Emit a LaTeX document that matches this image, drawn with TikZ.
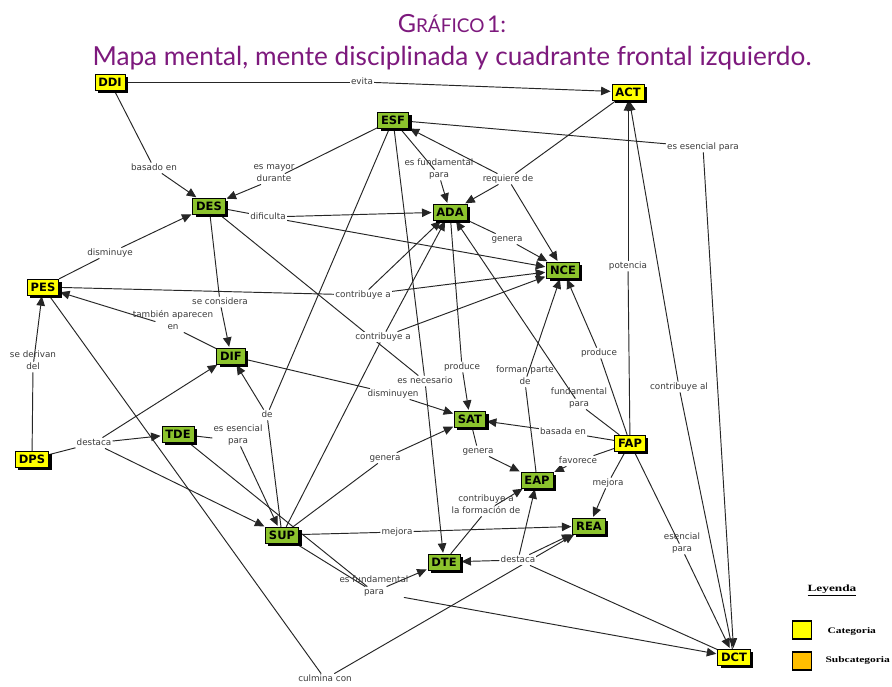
\documentclass[tikz,border=0pt]{standalone}
\usepackage{fontspec}
\setmainfont{DejaVu Sans}
\newfontfamily\titlefont{Lato}
\newfontfamily\legendfont{Liberation Serif}
\usetikzlibrary{arrows.meta, shadows}

\definecolor{cgreen}{RGB}{140,195,45}
\definecolor{cyellow}{RGB}{255,255,0}
\definecolor{corange}{RGB}{255,190,0}
\definecolor{ctitle}{RGB}{125,25,125}
\definecolor{clabel}{RGB}{60,60,60}

\pgfdeclarelayer{bg}
\pgfsetlayers{bg,main}

\tikzset{
  conceptbox/.style={draw=black, line width=0.6pt,
    font=\fontsize{11.5}{12}\selectfont\bfseries,
    inner xsep=3.5pt, inner ysep=3.7pt, text height=8.4pt, text depth=0pt,
    drop shadow={shadow xshift=3pt, shadow yshift=-3pt, fill=black, opacity=1}},
  catbox/.style={conceptbox, fill=cyellow},
  subbox/.style={conceptbox, fill=cgreen},
  phrase/.style={fill=white, text=clabel, font=\fontsize{8.8}{11.5}\selectfont,
    inner sep=1pt, align=center, text height=6.6pt, text depth=1.8pt},
  lnk/.style={draw=black!85, line width=0.95pt},
  lnkarr/.style={lnk, -{Triangle[length=9.5pt,width=8.5pt]}, shorten >=1pt},
}

\begin{document}
\begin{tikzpicture}[x=1pt, y=-1pt]
\useasboundingbox (0,0) rectangle (892,686);

\node[anchor=base, text=ctitle, font=\titlefont] (titleA) at (452,32)
  {{\fontsize{25}{25}\selectfont G}{\fontsize{19}{19}\selectfont RÁFICO} {\fontsize{23}{23}\selectfont 1:}};
\node[anchor=base, text=ctitle, font=\titlefont\fontsize{26.2}{26}\selectfont] (titleB) at (452,65)
  {Mapa mental, mente disciplinada y cuadrante frontal izquierdo.};

\node[catbox] (ddi) at (110,82) {DDI};
\node[catbox] (act) at (628,92) {ACT};
\node[subbox] (esf) at (393,120) {ESF};
\node[subbox] (des) at (209,206) {DES};
\node[subbox] (ada) at (450,212) {ADA};
\node[subbox] (nce) at (563,270) {NCE};
\node[catbox] (pes) at (43,287) {PES};
\node[subbox] (dif) at (231,356) {DIF};
\node[subbox] (tde) at (178,434) {TDE};
\node[catbox] (dps) at (32,459) {DPS};
\node[subbox] (sat) at (470,419) {SAT};
\node[catbox] (fap) at (630,443) {FAP};
\node[subbox] (eap) at (537,480) {EAP};
\node[subbox] (rea) at (589,526) {REA};
\node[subbox] (sup) at (282,535) {SUP};
\node[subbox] (dte) at (444,562) {DTE};
\node[catbox] (dct) at (734,657) {DCT};

\node[phrase] (evita) at (362,82) {evita};
\node[phrase] (basado) at (154,168) {basado en};
\node[phrase] (mayor) at (274,179) {es mayor\\durante};
\node[phrase] (fundA) at (439,175) {es fundamental\\para};
\node[phrase] (requiere) at (508,179) {requiere de};
\node[phrase] (esencialA) at (703,147) {es esencial para};
\node[phrase] (dificulta) at (268,217) {dificulta};
\node[phrase] (generaA) at (507,239) {genera};
\node[phrase] (potencia) at (628,266) {potencia};
\node[phrase] (disminuye) at (110,253) {disminuye};
\node[phrase] (contribA) at (363,295) {contribuye a};
\node[phrase] (considera) at (220,302) {se considera};
\node[phrase] (aparecen) at (173,327) {también aparecen\\en};
\node[phrase] (contribB) at (383,337) {contribuye a};
\node[phrase] (derivan) at (33,367) {se derivan\\del};
\node[phrase] (produceA) at (462,367) {produce};
\node[phrase] (forman) at (525,382) {forman parte\\de};
\node[phrase] (produceB) at (599,353) {produce};
\node[phrase] (contribAl) at (679,387) {contribuye al};
\node[phrase] (necesario) at (425,381) {es necesario};
\node[phrase] (disminuyen) at (393,394) {disminuyen};
\node[phrase] (fundB) at (579,404) {fundamental\\para};
\node[phrase] (basada) at (563,432) {basada en};
\node[phrase] (de) at (267,415) {de};
\node[phrase] (destacaA) at (94,443) {destaca};
\node[phrase] (esencialB) at (238,441) {es esencial\\para};
\node[phrase] (generaB) at (385,458) {genera};
\node[phrase] (generaC) at (478,451) {genera};
\node[phrase] (favorece) at (578,461) {favorece};
\node[phrase] (mejoraA) at (608,483) {mejora};
\node[phrase] (esencialC) at (682,549) {esencial\\para};
\node[phrase] (formacion) at (486,511) {contribuye a\\la formación de};
\node[phrase] (mejoraB) at (397,532) {mejora};
\node[phrase] (destacaB) at (518,560) {destaca};
\node[phrase] (fundC) at (374,592) {es fundamental\\para};
\node[phrase] (culmina) at (325,679) {culmina con};

\node[font=\fontsize{9.5}{9.5}\selectfont\legendfont\bfseries] (leyenda) at (832,590)
  {\scalebox{1.4}[1]{\underline{Leyenda}}};
\node[draw, line width=1.6pt, fill=cyellow, minimum width=19pt, minimum height=18pt] (keyA) at (802,630) {};
\node[draw, line width=1.6pt, fill=corange, minimum width=19pt, minimum height=18pt] (keyB) at (802,661) {};
\node[anchor=west, font=\fontsize{8.5}{8.5}\selectfont\legendfont\bfseries] (keyAtext) at (824,631)
  {\scalebox{1.35}[1]{Categoria}};
\node[anchor=west, font=\fontsize{8.5}{8.5}\selectfont\legendfont\bfseries] (keyBtext) at (822,660)
  {\scalebox{1.35}[1]{Subcategoria}};

\begin{pgfonlayer}{bg}
\fill[white] (0,0) rectangle (892,686);
\draw[lnk] (ddi) -- (evita);
\draw[lnkarr] (evita) -- (act);
\draw[lnk] (ddi) -- (basado);
\draw[lnkarr] (basado) -- (des);
\draw[lnk] (esf) -- (mayor);
\draw[lnkarr] (mayor) -- (des);
\draw[lnk] (esf) -- (fundA);
\draw[lnkarr] (fundA) -- (ada);
\draw[lnk] (esf) -- (esencialA);
\draw[lnkarr] (esencialA) -- (dct);
\draw[lnk] (act) -- (requiere);
\draw[lnkarr] (requiere) -- (ada);
\draw[lnkarr] (requiere) -- (nce);
\draw[lnkarr] (requiere) -- (esf);
\draw[lnk] (des) -- (dificulta);
\draw[lnkarr] (dificulta) -- (ada);
\draw[lnkarr] (dificulta) -- (nce);
\draw[lnk] (ada) -- (generaA);
\draw[lnkarr] (generaA) -- (nce);
\draw[lnk] (fap) -- (potencia);
\draw[lnkarr] (potencia) -- (act);
\draw[lnk] (pes) -- (disminuye);
\draw[lnkarr] (disminuye) -- (des);
\draw[lnk] (pes) -- (contribA);
\draw[lnkarr] (contribA) -- (ada);
\draw[lnkarr] (contribA) -- (nce);
\draw[lnk] (des) -- (considera);
\draw[lnkarr] (considera) -- (dif);
\draw[lnk] (dif) -- (aparecen);
\draw[lnkarr] (aparecen) -- (pes);
\draw[lnk] (sup) -- (contribB);
\draw[lnkarr] (contribB) -- (ada);
\draw[lnkarr] (contribB) -- (nce);
\draw[lnk] (dps) -- (derivan);
\draw[lnkarr] (derivan) -- (pes);
\draw[lnk] (ada) -- (produceA);
\draw[lnkarr] (produceA) -- (sat);
\draw[lnk] (eap) -- (forman);
\draw[lnkarr] (forman) -- (nce);
\draw[lnk] (fap) -- (produceB);
\draw[lnkarr] (produceB) -- (nce);
\draw[lnk] (dct) -- (contribAl);
\draw[lnkarr] (contribAl) -- (act);
\draw[lnk] (esf) -- (necesario);
\draw[lnk] (des) -- (necesario);
\draw[lnkarr] (necesario) -- (dte);
\draw[lnk] (dif) -- (disminuyen);
\draw[lnkarr] (disminuyen) -- (sat);
\draw[lnk] (fap) -- (fundB);
\draw[lnkarr] (fundB) -- (ada);
\draw[lnk] (fap) -- (basada);
\draw[lnkarr] (basada) -- (sat);
\draw[lnk] (sup) -- (de);
\draw[lnk] (esf) -- (de);
\draw[lnkarr] (de) -- (dif);
\draw[lnk] (dps) -- (destacaA);
\draw[lnkarr] (destacaA) -- (tde);
\draw[lnkarr] (destacaA) -- (dif);
\draw[lnkarr] (destacaA) -- (sup);
\draw[lnk] (tde) -- (esencialB);
\draw[lnkarr] (esencialB) -- (sup);
\draw[lnk] (sup) -- (generaB);
\draw[lnkarr] (generaB) -- (sat);
\draw[lnk] (sat) -- (generaC);
\draw[lnkarr] (generaC) -- (eap);
\draw[lnk] (fap) -- (favorece);
\draw[lnkarr] (favorece) -- (eap);
\draw[lnk] (fap) -- (mejoraA);
\draw[lnkarr] (mejoraA) -- (rea);
\draw[lnk] (fap) -- (esencialC);
\draw[lnkarr] (esencialC) -- (dct);
\draw[lnk] (dte) -- (formacion);
\draw[lnkarr] (formacion) -- (eap);
\draw[lnk] (sup) -- (mejoraB);
\draw[lnkarr] (mejoraB) -- (rea);
\draw[lnk] (dct) -- (destacaB);
\draw[lnkarr] (destacaB) -- (dte);
\draw[lnkarr] (destacaB) -- (eap);
\draw[lnkarr] (destacaB) -- (rea);
\draw[lnk] (sup) -- (fundC);
\draw[lnk] (tde) -- (fundC);
\draw[lnkarr] (fundC) -- (dte);
\draw[lnkarr] (fundC) -- (dct);
\draw[lnk] (pes) -- (culmina);
\draw[lnkarr] (culmina) -- (rea);
\end{pgfonlayer}
\end{tikzpicture}
\end{document}
